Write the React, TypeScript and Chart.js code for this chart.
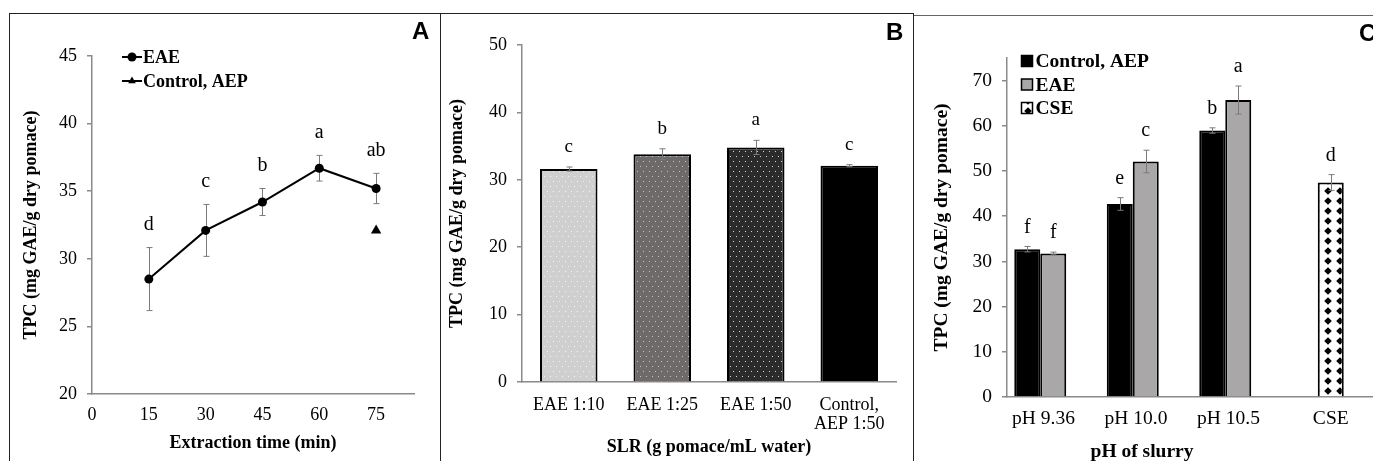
import React, { useEffect, useRef } from 'react';
import { Chart, registerables } from 'chart.js';

Chart.register(...registerables);

const SERIF = "'Liberation Serif', 'Times New Roman', serif";
const SANS = "'Liberation Sans', Arial, sans-serif";
const AXIS_GREY = '#8a8a8a';
const ERR_GREY = '#7a7a7a';

// ---- Panel A: TPC against extraction time ----
const timeMinutes = [15, 30, 45, 60, 75];
const eaeByTime = [28.5, 32.1, 34.2, 36.7, 35.2];
const eaeByTimeSd = [2.33, 1.92, 1.0, 0.95, 1.12];
const eaeByTimeLetters = ['d', 'c', 'b', 'a', 'ab'];
const controlTime = [75];
const controlByTime = [32.1];
const timeTicks = [0, 15, 30, 45, 60, 75];
const tpcTicksA = [20, 25, 30, 35, 40, 45];

// ---- Panel B: TPC against solid-to-liquid ratio ----
const slrLabels = ['EAE 1:10', 'EAE 1:25', 'EAE 1:50', ['Control,', 'AEP 1:50']];
const tpcBySlr = [31.6, 33.8, 34.8, 32.1];
const tpcBySlrSd = [0.3, 0.8, 1.05, 0.15];
const slrLetters = ['c', 'b', 'a', 'c'];
const tpcTicksB = [0, 10, 20, 30, 40, 50];

// ---- Panel C: TPC against slurry pH ----
const phLabels = ['pH 9.36    ', 'pH 10.0    ', 'pH 10.5    ', 'CSE'];
const controlByPh = [32.7, 42.7, 58.95, null];
const controlByPhSd = [0.6, 1.4, 0.6, null];
const controlByPhLetters = ['f', 'e', 'b', null];
const eaeByPh = [31.75, 52.1, 65.7, null];
const eaeByPhSd = [0.3, 2.5, 3.1, null];
const eaeByPhLetters = ['f', 'c', 'a', null];
const cseByPh = [null, null, null, 47.45];
const cseByPhSd = [null, null, null, 1.75];
const cseByPhLetters = [null, null, null, 'd'];
const spareSlot = [null, null, null, null];
const tpcTicksC = [0, 10, 20, 30, 40, 50, 60, 70];

const valueOf = (raw: any) => (raw && typeof raw === 'object' ? raw.y : raw);

function drawErrorBars(chart: any, opts: any) {
  const { ctx } = chart;
  const y = chart.scales.y;
  chart.data.datasets.forEach((ds: any, di: number) => {
    if (!ds.errors) return;
    const meta = chart.getDatasetMeta(di);
    meta.data.forEach((el: any, i: number) => {
      const v = valueOf(ds.data[i]);
      const e = ds.errors[i];
      if (v == null || e == null) return;
      const x = Math.round(el.x) + 0.5;
      const top = y.getPixelForValue(v + e);
      const bot = y.getPixelForValue(v - e);
      ctx.save();
      ctx.strokeStyle = opts.color;
      ctx.lineWidth = 1;
      ctx.beginPath();
      ctx.moveTo(x, top);
      ctx.lineTo(x, bot);
      ctx.moveTo(x - opts.cap, top);
      ctx.lineTo(x + opts.cap, top);
      ctx.moveTo(x - opts.cap, bot);
      ctx.lineTo(x + opts.cap, bot);
      ctx.stroke();
      ctx.restore();
    });
  });
}

const errorBars = {
  id: 'errorBars',
  beforeDatasetsDraw(chart: any, _a: any, opts: any) {
    if (opts.behind) drawErrorBars(chart, opts);
  },
  afterDatasetsDraw(chart: any, _a: any, opts: any) {
    if (!opts.behind) drawErrorBars(chart, opts);
  },
};

const letterLabels = {
  id: 'letterLabels',
  afterDatasetsDraw(chart: any, _a: any, opts: any) {
    const { ctx } = chart;
    const y = chart.scales.y;
    ctx.save();
    ctx.fillStyle = '#000';
    ctx.font = `${opts.size}px ${SERIF}`;
    ctx.textAlign = 'center';
    ctx.textBaseline = 'middle';
    chart.data.datasets.forEach((ds: any, di: number) => {
      if (!ds.letters) return;
      const meta = chart.getDatasetMeta(di);
      meta.data.forEach((el: any, i: number) => {
        const v = valueOf(ds.data[i]);
        const letter = ds.letters[i];
        if (v == null || !letter) return;
        const e = ds.errors ? ds.errors[i] || 0 : 0;
        ctx.fillText(letter, el.x, y.getPixelForValue(v + e) - opts.gap);
      });
    });
    ctx.restore();
  },
};

const lineLegend = {
  id: 'lineLegend',
  afterDraw(chart: any, _a: any, opts: any) {
    const { ctx, chartArea } = chart;
    ctx.save();
    chart.data.datasets.forEach((ds: any, i: number) => {
      const cx = chartArea.left + opts.x;
      const cy = chartArea.top + opts.y + i * opts.gap;
      ctx.strokeStyle = '#000';
      ctx.lineWidth = 2;
      ctx.beginPath();
      ctx.moveTo(cx - 10, cy);
      ctx.lineTo(cx + 10, cy);
      ctx.stroke();
      ctx.fillStyle = ds.pointBackgroundColor;
      ctx.beginPath();
      if (ds.pointStyle === 'triangle') {
        const r = opts.triangle;
        ctx.moveTo(cx, cy - r);
        ctx.lineTo(cx + r * 0.866, cy + r * 0.5);
        ctx.lineTo(cx - r * 0.866, cy + r * 0.5);
        ctx.closePath();
      } else {
        ctx.arc(cx, cy, ds.pointRadius, 0, Math.PI * 2);
      }
      ctx.fill();
      ctx.fillStyle = '#000';
      ctx.font = `bold ${opts.size}px ${SERIF}`;
      ctx.textAlign = 'left';
      ctx.textBaseline = 'middle';
      ctx.fillText(ds.label, cx + 11, cy + 1);
    });
    ctx.restore();
  },
};

const boxLegend = {
  id: 'boxLegend',
  afterDraw(chart: any, _a: any, opts: any) {
    const { ctx, chartArea } = chart;
    ctx.save();
    let row = 0;
    chart.data.datasets.forEach((ds: any) => {
      if (!ds.label) return;
      const cx = chartArea.left + opts.x;
      const cy = chartArea.top + opts.y + row * opts.gap;
      const s = opts.box;
      ctx.fillStyle = ds.backgroundColor;
      ctx.fillRect(cx - s / 2, cy - s / 2, s, s);
      ctx.strokeStyle = '#000';
      ctx.lineWidth = 1.5;
      ctx.strokeRect(cx - s / 2, cy - s / 2, s, s);
      ctx.fillStyle = '#000';
      ctx.font = `bold ${opts.size}px ${SERIF}`;
      ctx.textAlign = 'left';
      ctx.textBaseline = 'middle';
      ctx.fillText(ds.label, cx + s / 2 + 3, cy + 1);
      row += 1;
    });
    ctx.restore();
  },
};

const axisCaption = {
  id: 'axisCaption',
  afterDraw(chart: any, _a: any, opts: any) {
    const { ctx, chartArea } = chart;
    ctx.save();
    ctx.fillStyle = '#000';
    ctx.font = `bold ${opts.size}px ${SERIF}`;
    ctx.textAlign = 'center';
    ctx.textBaseline = 'middle';
    ctx.fillText(opts.text, chartArea.left + opts.dx, chartArea.bottom + opts.dy);
    ctx.restore();
  },
};

function dotPattern(bg: string, dot: string) {
  const c = document.createElement('canvas');
  c.width = 6;
  c.height = 10;
  const g = c.getContext('2d') as CanvasRenderingContext2D;
  g.fillStyle = bg;
  g.fillRect(0, 0, 6, 10);
  g.fillStyle = dot;
  g.fillRect(1, 2, 1, 1);
  g.fillRect(4, 7, 1, 1);
  return g.createPattern(c, 'repeat');
}

function diamondPattern() {
  const c = document.createElement('canvas');
  c.width = 12;
  c.height = 10;
  const g = c.getContext('2d') as CanvasRenderingContext2D;
  g.fillStyle = '#fff';
  g.fillRect(0, 0, 12, 10);
  g.fillStyle = '#000';
  g.beginPath();
  g.moveTo(6, 1.2);
  g.lineTo(9.8, 5);
  g.lineTo(6, 8.8);
  g.lineTo(2.2, 5);
  g.closePath();
  g.fill();
  return g.createPattern(c, 'repeat');
}

function valueAxis(o: any) {
  return {
    min: o.min,
    max: o.max,
    stacked: false,
    afterBuildTicks: (s: any) => {
      s.ticks = o.ticks.map((v: number) => ({ value: v }));
    },
    afterFit: (s: any) => {
      s.width = o.width;
    },
    grid: { display: true, drawOnChartArea: false, drawTicks: true, tickLength: 5, color: AXIS_GREY, lineWidth: 1.5 },
    border: { display: true, color: AXIS_GREY, width: 1.5 },
    ticks: { color: '#000', padding: o.tickPad, font: { family: SERIF, size: o.size } },
    title: {
      display: true,
      text: 'TPC (mg GAE/g dry pomace)',
      color: '#000',
      font: { family: SERIF, size: o.size, weight: 'bold' },
      padding: { top: o.titlePad, bottom: 0 },
    },
  };
}

function configA() {
  return {
    type: 'line',
    data: {
      datasets: [
        {
          label: 'EAE',
          data: timeMinutes.map((t, i) => ({ x: t, y: eaeByTime[i] })),
          errors: eaeByTimeSd,
          letters: eaeByTimeLetters,
          borderColor: '#000',
          borderWidth: 2,
          pointBackgroundColor: '#000',
          pointBorderWidth: 0,
          pointRadius: 4.5,
          tension: 0,
        },
        {
          label: 'Control, AEP',
          data: controlTime.map((t, i) => ({ x: t, y: controlByTime[i] })),
          showLine: false,
          pointStyle: 'triangle',
          pointBackgroundColor: '#000',
          pointBorderWidth: 0,
          pointRadius: 6,
        },
      ],
    },
    options: {
      responsive: false,
      animation: false,
      layout: { padding: { top: 42, right: 25, left: 0, bottom: 0 } },
      plugins: {
        legend: { display: false },
        tooltip: { enabled: false },
        errorBars: { color: ERR_GREY, cap: 3, behind: true },
        letterLabels: { size: 20, gap: 23 },
        lineLegend: { x: 40, y: 1, gap: 24, size: 18, triangle: 4.4 },
      },
      scales: {
        x: {
          type: 'linear',
          min: 0,
          max: 85,
          afterBuildTicks: (s: any) => {
            s.ticks = timeTicks.map((v) => ({ value: v }));
          },
          afterFit: (s: any) => {
            s.height = 67;
          },
          grid: { display: false, drawTicks: false },
          border: { display: true, color: AXIS_GREY, width: 1.5 },
          ticks: { color: '#000', padding: 10, font: { family: SERIF, size: 18 } },
          title: {
            display: true,
            text: 'Extraction time (min)',
            color: '#000',
            font: { family: SERIF, size: 18, weight: 'bold' },
            padding: { top: 0, bottom: 7 },
          },
        },
        y: valueAxis({ min: 20, max: 45, ticks: tpcTicksA, width: 82, tickPad: 10, titlePad: 11, size: 18 }),
      },
    },
    plugins: [errorBars, letterLabels, lineLegend],
  };
}

function configB() {
  return {
    type: 'bar',
    data: {
      labels: slrLabels,
      datasets: [
        {
          label: 'TPC',
          data: tpcBySlr,
          errors: tpcBySlrSd,
          letters: slrLetters,
          backgroundColor: [
            dotPattern('#cfcfcf', '#f2f2f2'),
            dotPattern('#6e6a6a', '#c4c4c4'),
            dotPattern('#2b2b2b', '#d6d6d6'),
            '#000',
          ],
          borderColor: '#000',
          borderWidth: 2,
          categoryPercentage: 0.615,
          barPercentage: 1,
        },
      ],
    },
    options: {
      responsive: false,
      animation: false,
      layout: { padding: { top: 31, right: 17, left: 0, bottom: 0 } },
      plugins: {
        legend: { display: false },
        tooltip: { enabled: false },
        errorBars: { color: ERR_GREY, cap: 3, behind: false },
        letterLabels: { size: 19, gap: 20 },
      },
      scales: {
        x: {
          afterFit: (s: any) => {
            s.height = 79;
          },
          grid: { display: false, drawTicks: false },
          border: { display: true, color: AXIS_GREY, width: 1.5 },
          ticks: { color: '#000', padding: 13, font: { family: SERIF, size: 18, lineHeight: 1.1 } },
          title: {
            display: true,
            text: 'SLR (g pomace/mL water)',
            color: '#000',
            font: { family: SERIF, size: 18, weight: 'bold' },
            padding: { top: 0, bottom: 3 },
          },
        },
        y: valueAxis({ min: 0, max: 50, ticks: tpcTicksB, width: 81, tickPad: 10, titlePad: 6, size: 18 }),
      },
    },
    plugins: [errorBars, letterLabels],
  };
}

function configC() {
  return {
    type: 'bar',
    data: {
      labels: phLabels,
      datasets: [
        {
          label: 'Control, AEP',
          data: controlByPh,
          errors: controlByPhSd,
          letters: controlByPhLetters,
          backgroundColor: '#000',
          borderColor: '#000',
          borderWidth: 2,
          stack: 'control',
        },
        {
          label: 'EAE',
          data: eaeByPh,
          errors: eaeByPhSd,
          letters: eaeByPhLetters,
          backgroundColor: '#a9a7a7',
          borderColor: '#000',
          borderWidth: 2,
          stack: 'eae',
        },
        {
          label: 'CSE',
          data: cseByPh,
          errors: cseByPhSd,
          letters: cseByPhLetters,
          backgroundColor: diamondPattern(),
          borderColor: '#000',
          borderWidth: 2,
          stack: 'eae',
        },
        {
          label: '',
          data: spareSlot,
          stack: 'spare',
        },
      ],
    },
    options: {
      responsive: false,
      animation: false,
      categoryPercentage: 0.843,
      barPercentage: 1,
      layout: { padding: { top: 42, right: 13, left: 0, bottom: 0 } },
      plugins: {
        legend: { display: false },
        tooltip: { enabled: false },
        errorBars: { color: ERR_GREY, cap: 3, behind: false },
        letterLabels: { size: 20, gap: 19 },
        boxLegend: { x: 20, y: 3, gap: 23.5, box: 11, size: 19.5 },
        axisCaption: { text: 'pH of slurry', dx: 135, dy: 55, size: 19.5 },
      },
      scales: {
        x: {
          afterFit: (s: any) => {
            s.height = 79;
          },
          grid: { display: false, drawTicks: false },
          border: { display: true, color: AXIS_GREY, width: 1.5 },
          ticks: { color: '#000', padding: 10, font: { family: SERIF, size: 19.5 } },
        },
        y: valueAxis({ min: 0, max: 75, ticks: tpcTicksC, width: 93, tickPad: 10, titlePad: 16, size: 19.5 }),
      },
    },
    plugins: [errorBars, letterLabels, boxLegend, axisCaption],
  };
}

function ChartCanvas({ make, left, top, width, height }: any) {
  const ref = useRef<HTMLCanvasElement | null>(null);
  useEffect(() => {
    const chart = new Chart(ref.current as HTMLCanvasElement, make());
    return () => chart.destroy();
  }, [make]);
  return (
    <canvas
      ref={ref}
      width={width}
      height={height}
      style={{ position: 'absolute', left, top, width, height }}
    />
  );
}

const panelLetter = (text: string, left: number, top: number) => (
  <div
    style={{
      position: 'absolute',
      left,
      top,
      font: `bold 24px ${SANS}`,
      lineHeight: '24px',
      color: '#000',
    }}
  >
    {text}
  </div>
);

export default function App() {
  return (
    <div
      style={{
        position: 'absolute',
        left: 0,
        top: 0,
        width: 1373,
        height: 461,
        overflow: 'hidden',
        background: '#fff',
      }}
    >
      <div
        style={{
          position: 'absolute',
          left: 9,
          top: 13,
          width: 432,
          height: 470,
          boxSizing: 'border-box',
          borderLeft: '1px solid #222',
          borderTop: '1px solid #222',
          borderRight: '1px solid #222',
        }}
      />
      <div
        style={{
          position: 'absolute',
          left: 440,
          top: 13,
          width: 474,
          height: 470,
          boxSizing: 'border-box',
          borderTop: '1px solid #222',
          borderRight: '1px solid #222',
        }}
      />
      <div style={{ position: 'absolute', left: 914, top: 15, width: 459, height: 1, background: '#666' }} />
      <ChartCanvas make={configA} left={10} top={14} width={429} height={447} />
      <ChartCanvas make={configB} left={441} top={14} width={472} height={447} />
      <ChartCanvas make={configC} left={914} top={16} width={476} height={460} />
      {panelLetter('A', 412, 19)}
      {panelLetter('B', 886, 20)}
      {panelLetter('C', 1359, 21)}
    </div>
  );
}
